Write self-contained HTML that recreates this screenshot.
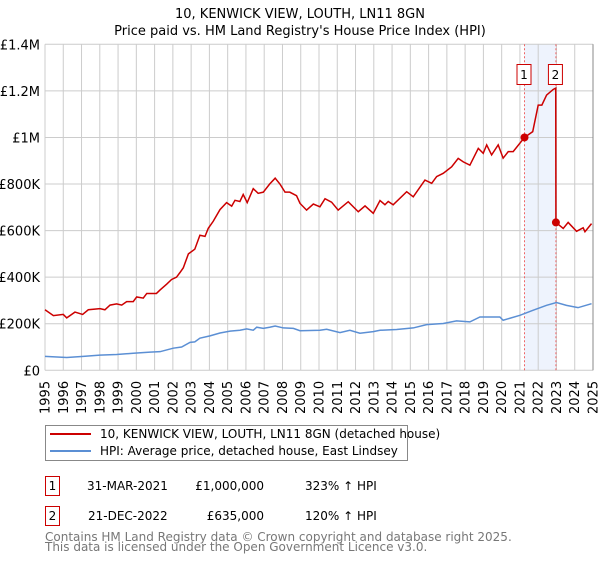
<!DOCTYPE html>
<html><head><meta charset="utf-8"><style>
body{margin:0;background:#fff;font-family:"Liberation Sans","DejaVu Sans",sans-serif;}
svg text{font-family:"DejaVu Sans","Liberation Sans",sans-serif;}
</style></head><body>
<svg id="chart" width="600" height="560" xmlns="http://www.w3.org/2000/svg">
<text x="300" y="18" text-anchor="middle" font-size="13">10, KENWICK VIEW, LOUTH, LN11 8GN</text>
<text x="300" y="35" text-anchor="middle" font-size="13">Price paid vs. HM Land Registry's House Price Index (HPI)</text>
<g id="grid"></g><g id="marks"></g><g id="axes"></g>
<g>
<rect x="45.5" y="425.5" width="362" height="35" fill="#fff" stroke="#888"/>
<line x1="50" y1="434" x2="91" y2="434" stroke="#cc0000" stroke-width="2"/>
<text x="100" y="438" font-size="12">10, KENWICK VIEW, LOUTH, LN11 8GN (detached house)</text>
<line x1="50" y1="451" x2="91" y2="451" stroke="#5b8fd4" stroke-width="2"/>
<text x="100" y="455" font-size="12">HPI: Average price, detached house, East Lindsey</text>
</g>
<g font-size="12">
<rect x="45.5" y="476.5" width="14" height="19" fill="#fff" stroke="#cc0000"/>
<text x="52.5" y="490" text-anchor="middle">1</text>
<text x="87" y="490">31-MAR-2021</text>
<text x="264" y="490" text-anchor="end">£1,000,000</text>
<text x="305" y="490">323% ↑ HPI</text>
<rect x="45.5" y="506.5" width="14" height="19" fill="#fff" stroke="#cc0000"/>
<text x="52.5" y="520" text-anchor="middle">2</text>
<text x="88" y="520">21-DEC-2022</text>
<text x="264" y="520" text-anchor="end">£635,000</text>
<text x="305" y="520">120% ↑ HPI</text>
</g>
<text x="45" y="541" font-size="12" fill="#777">Contains HM Land Registry data © Crown copyright and database right 2025.</text>
<text x="45" y="551" font-size="12" fill="#777">This data is licensed under the Open Government Licence v3.0.</text>
</svg>
<script>
const yTicks=[0,200,400,600,800,1000,1200,1400];
const yTickLabels=["£0","£200K","£400K","£600K","£800K","£1M","£1.2M","£1.4M"];
const xYears=[1995,1996,1997,1998,1999,2000,2001,2002,2003,2004,2005,2006,2007,2008,2009,2010,2011,2012,2013,2014,2015,2016,2017,2018,2019,2020,2021,2022,2023,2024,2025];
const redDates=[1995.0,1995.46,1996.0,1996.19,1996.64,1997.06,1997.37,1998.01,1998.28,1998.56,1998.92,1999.2,1999.47,1999.83,2000.02,2000.38,2000.57,2001.1,2001.3,2001.66,2001.93,2002.2,2002.39,2002.57,2002.85,2003.2,2003.48,2003.76,2003.94,2004.21,2004.58,2004.94,2005.22,2005.4,2005.67,2005.85,2006.07,2006.4,2006.67,2006.95,2007.3,2007.6,2007.86,2008.14,2008.4,2008.77,2008.96,2009.32,2009.69,2010.05,2010.33,2010.69,2011.05,2011.6,2012.15,2012.52,2012.97,2013.34,2013.61,2013.79,2014.06,2014.8,2015.16,2015.8,2016.17,2016.44,2016.8,2017.26,2017.62,2017.9,2018.26,2018.72,2018.99,2019.18,2019.45,2019.81,2020.08,2020.36,2020.63,2021.25,2021.7,2022.0,2022.2,2022.46,2022.82,2022.96,2022.97,2023.37,2023.64,2024.1,2024.46,2024.56,2024.92];
const redValues=[260,235,240,225,250,240,260,265,260,280,285,280,295,295,315,310,330,330,345,370,390,400,420,440,500,520,580,575,610,640,690,720,705,730,725,755,720,780,760,765,800,825,800,765,765,750,717,688,714,702,737,722,688,724,681,706,674,729,711,725,711,767,745,817,803,832,846,874,910,895,881,953,932,968,925,968,911,939,939,1000,1025,1139,1139,1182,1206,1212,635,609,635,597,612,595,630];
const blueDates=[1995.0,1996.19,1997.1,1998.0,1998.92,1999.83,2000.75,2001.3,2002.02,2002.48,2002.94,2003.2,2003.48,2004.03,2004.58,2005.13,2005.67,2006.04,2006.4,2006.59,2006.95,2007.3,2007.6,2008.05,2008.6,2008.96,2010.05,2010.42,2011.15,2011.69,2012.24,2012.97,2013.34,2014.25,2015.16,2015.89,2016.8,2017.53,2018.26,2018.81,2019.9,2020.08,2021.0,2021.73,2022.46,2023.0,2023.55,2024.18,2024.92];
const blueValues=[60,55,60,65,68,73,78,80,95,100,120,122,138,148,160,168,172,178,172,185,180,185,190,182,180,170,172,176,162,172,159,166,172,175,182,196,201,212,208,229,229,215,236,258,279,291,279,269,286];
const saleDates=[2021.25,2022.97];
const saleValues=[1000,635];
const saleLabels=["1","2"];

const X0=45,X1=593,Y0=370.3,Y1=44.3;
const xs=d=>X0+(d-1995)/(2025-1995)*(X1-X0);
const ys=v=>Y0-v/1400*(Y0-Y1);
const NS="http://www.w3.org/2000/svg";
function mk(tag,parent,attrs){const e=document.createElementNS(NS,tag);for(const k in attrs)e.setAttribute(k,attrs[k]);parent.appendChild(e);return e;}
const grid=document.getElementById('grid'),marks=document.getElementById('marks'),axes=document.getElementById('axes');
const band=mk('rect',grid,{x:xs(saleDates[0]),y:Y1,width:xs(saleDates[1])-xs(saleDates[0]),height:Y0-Y1,fill:'#eef3fd'});


xYears.forEach(y=>{
 const l=mk('line',grid,{x1:xs(y),x2:xs(y),y1:Y1,y2:Y0,stroke:'#cccccc','stroke-width':1});
 
 
 const t=mk('text',axes,{transform:`translate(${xs(y)+4.5},414) rotate(-90)`,'font-size':13});
 
 
 t.textContent=y;
});
yTicks.forEach((v,i)=>{
 const l=mk('line',grid,{x1:X0,x2:X1,y1:ys(v),y2:ys(v),stroke:'#cccccc','stroke-width':1});
 
 
 const t=mk('text',axes,{x:40,y:ys(v)+5,'text-anchor':'end','font-size':13});
 
 
 t.textContent=yTickLabels[i];
});
const rb=mk('line',axes,{x1:X1,x2:X1,y1:Y1,y2:Y0,stroke:'#888','stroke-width':1});


saleDates.forEach((d,i)=>{
 const l=mk('line',marks,{x1:xs(d),x2:xs(d),y1:Y1,y2:Y0,stroke:'#ee6666','stroke-width':1,'stroke-dasharray':'2,2'});
 
 
});
const bp=mk('polyline',marks,{points:blueDates.map((d,i)=>xs(d)+','+ys(blueValues[i])).join(' '),fill:'none',stroke:'#5b8fd4','stroke-width':1.5});


const rp=mk('polyline',marks,{points:redDates.map((d,i)=>xs(d)+','+ys(redValues[i])).join(' '),fill:'none',stroke:'#cc0000','stroke-width':1.5});


saleDates.forEach((d,i)=>{
 const c=mk('circle',marks,{cx:xs(d),cy:ys(saleValues[i]),r:4,fill:'#cc0000'});
 
 
 const r=mk('rect',marks,{x:xs(d)-7.5,y:64.5,width:14,height:20,fill:'#fff',stroke:'#cc0000'});
 
 
 const t=mk('text',marks,{x:xs(d)-0.5,y:79,'text-anchor':'middle','font-size':12});
 
 
 t.textContent=saleLabels[i];
});
</script>
</body></html>
